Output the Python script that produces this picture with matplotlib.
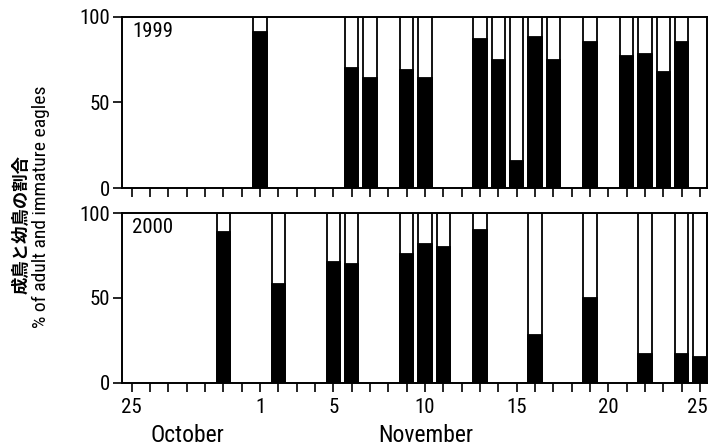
import matplotlib
matplotlib.use("Agg")
import matplotlib.pyplot as plt
from matplotlib import font_manager
import matplotlib.transforms as mtransforms

# ---- data ----
dates_1999 = ["11-01", "11-06", "11-07", "11-09", "11-10", "11-13", "11-14", "11-15",
              "11-16", "11-17", "11-19", "11-21", "11-22", "11-23", "11-24"]
adult_1999 = [91, 70, 64, 69, 64, 87, 75, 16, 88, 75, 85, 77, 78, 68, 85]

dates_2000 = ["10-30", "11-02", "11-05", "11-06", "11-09", "11-10", "11-11", "11-13",
              "11-16", "11-19", "11-22", "11-24", "11-25"]
adult_2000 = [89, 58, 71, 70, 76, 82, 80, 90, 28, 50, 17, 17, 15]

tick_days = ["10-25", "11-01", "11-05", "11-10", "11-15", "11-20", "11-25"]
tick_labels = ["25", "1", "5", "10", "15", "20", "25"]
years = ["1999", "2000"]
ylabel_jp = "成鳥と幼鳥の割合"
ylabel_en = "% of adult and immature eagles"


def day_index(s):
    m, d = s.split("-")
    m, d = int(m), int(d)
    return d - 25 if m == 10 else d + 6


# ---- pick a condensed sans font if one exists ----
ttf = font_manager.fontManager.ttflist
names = {f.name for f in ttf}
base, stretch, narrow = "Liberation Sans", "normal", False
for c in ["Liberation Sans Narrow", "Arial Narrow", "Roboto Condensed",
          "Open Sans Condensed", "Noto Sans Condensed", "DejaVu Sans Condensed"]:
    if c in names:
        base, narrow = c, True
        break
if not narrow:
    for f in ttf:
        if f.stretch in ("condensed", "semi-condensed") and f.name in (
                "Liberation Sans", "Noto Sans", "Roboto", "Open Sans", "DejaVu Sans"):
            base, stretch, narrow = f.name, f.stretch, True
            break
plt.rcParams["font.family"] = [base, "DejaVu Sans"]
plt.rcParams["font.stretch"] = stretch

k = 1.0 if narrow else 0.86   # shrink regular-width fonts to keep widths
fs_tick = 15 * k
fs_year = 15 * k
fs_month = 17 * k
fs_en = 14 * k

fig = plt.figure(figsize=(7.08, 4.47), dpi=100)
ax1 = fig.add_axes([0.1723, 0.5794, 0.826, 0.3832])
ax2 = fig.add_axes([0.1723, 0.1439, 0.826, 0.3790])

W = 0.72
for ax, dates, vals, yr in [(ax1, dates_1999, adult_1999, years[0]),
                            (ax2, dates_2000, adult_2000, years[1])]:
    x = [day_index(s) for s in dates]
    ax.bar(x, [100] * len(x), width=W, color="white", edgecolor="black", linewidth=1.3, zorder=2)
    ax.bar(x, vals, width=W, color="black", edgecolor="black", linewidth=1.3, zorder=3)
    ax.set_xlim(-0.53, 31.37)
    ax.set_ylim(0, 100)
    ax.set_yticks([0, 50, 100])
    ax.set_xticks(range(0, 32))
    ax.set_xticklabels([])
    ax.tick_params(axis="both", direction="out", length=6.5, width=1.2, labelsize=fs_tick)
    ax.tick_params(axis="y", pad=2)
    ax.tick_params(axis="x", pad=4.5)
    for sp in ax.spines.values():
        sp.set_linewidth(1.4)
    ax.text(0.017, 0.915, yr, transform=ax.transAxes, fontsize=fs_year, va="center", ha="left")

tick_pos = [day_index(s) for s in tick_days]
ax2.set_xticks(range(0, 32))
ax2.set_xticklabels([tick_labels[tick_pos.index(i)] if i in tick_pos else "" for i in range(32)],
                    fontsize=fs_tick)
# nudge the last label slightly left so it stays inside the figure
last = ax2.get_xticklabels()[tick_pos[-1]]
last.set_transform(last.get_transform() + mtransforms.ScaledTranslation(-3 / 100, 0, fig.dpi_scale_trans))

fig.text(187 / 708, 1 - 436 / 447, "October", fontsize=fs_month, ha="center", va="center")
fig.text(426 / 708, 1 - 436 / 447, "November", fontsize=fs_month, ha="center", va="center")

fig.text(22 / 708, 1 - 225 / 447, ylabel_jp, rotation=90, fontsize=12.5, fontweight="bold",
         family=["Noto Sans CJK JP", "DejaVu Sans"], ha="center", va="center")
fig.text(41 / 708, 1 - 207 / 447, ylabel_en, rotation=90, fontsize=fs_en, ha="center", va="center")

fig.savefig("out.png", dpi=100)
